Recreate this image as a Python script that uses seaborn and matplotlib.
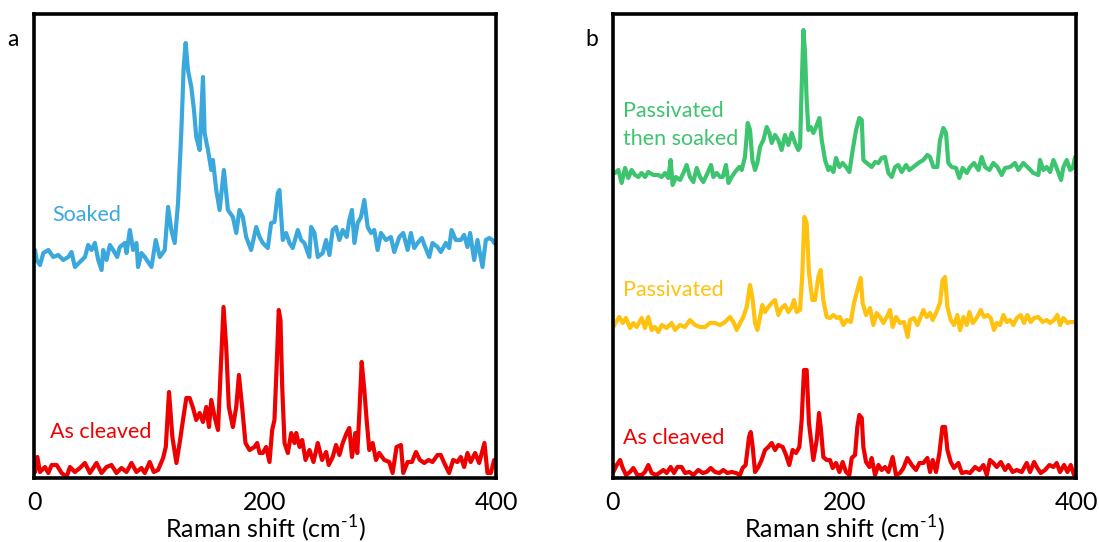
import matplotlib
matplotlib.use("Agg")
import matplotlib.pyplot as plt
import numpy as np
import pandas as pd
import seaborn as sns

# ---------------- Raman spectra (stacked with vertical offsets) ----------------
# Panel a: soaked sample
soaked_x = [0.9, 2.3, 5.2, 8.1, 12.4, 16.7, 21.0, 25.3, 29.7, 32.5, 35.4, 39.7, 44.1, 46.9, 49.8,
            52.7, 55.6, 58.5, 59.9, 62.8, 65.7, 68.5, 72.0, 74.3, 78.6, 80.1, 83.0, 85.8, 88.7, 90.1,
            93.0, 95.9, 101.7, 105.4, 108.9, 113.2, 116.1, 118.9, 121.8, 124.7, 127.6, 129.6, 131.3,
            133.3, 136.2, 138.5, 140.5, 143.4, 146.3, 147.7, 150.6, 153.5, 154.9, 157.8, 160.7, 164.4,
            167.9, 172.2, 175.1, 177.9, 180.8, 183.7, 188.0, 192.4, 195.3,
            198.1, 202.4, 205.3, 208.2, 211.1, 212.5, 215.4, 218.3, 221.2, 224.0, 228.4, 231.3, 234.1,
            238.4, 239.9, 242.8, 245.7, 250.0, 252.9, 255.8, 258.6, 261.5, 264.4, 267.3, 270.7, 273.0,
            275.3, 277.4, 280.2, 283.1, 286.0, 288.9, 291.8, 294.6, 297.5, 300.4, 304.7, 309.0, 311.9,
            316.3, 319.7, 323.5, 326.3, 329.2, 332.1, 335.8, 338.7, 342.2, 345.0, 349.4, 352.2, 356.6,
            359.4, 361.5, 365.2, 369.5, 372.4, 375.3, 377.6, 381.1, 384.0, 388.3, 391.2, 394.1, 397.0,
            398.4]
soaked_y = [228, 218, 213, 225, 228, 221, 223, 218, 221, 226, 211, 216, 221, 233, 228,
            235, 218, 208, 228, 218, 233, 228, 221, 231, 235, 225, 248, 228, 235, 211,
            225, 221, 211, 238, 221, 228, 271, 248, 235, 275, 348, 411, 435,
            408, 391, 368, 341, 328, 401, 345, 328, 308, 318, 288, 268, 308,
            268, 261, 245, 268, 261, 241, 228, 251, 241,
            235, 230, 255, 256, 285, 288, 238, 245, 235, 230, 248, 238, 235,
            221, 251, 245, 221, 225, 238, 223, 248, 251, 238, 248, 241, 258,
            268, 235, 255, 261, 278, 251, 245, 248, 228, 245, 238, 241, 226,
            241, 245, 228, 245, 230, 235, 240, 231, 221, 235, 231, 226, 235,
            230, 248, 238, 238, 243, 231, 245, 218, 238, 211, 238, 240, 238,
            235]

# Panel a: as-cleaved sample
cleaved_a_x = [0.9, 2.9, 5.2, 9.5, 12.4, 15.3, 19.6, 23.9, 28.2, 31.1, 35.4, 39.7, 44.1, 48.4, 54.1,
               58.5, 62.8, 67.1, 71.4, 75.7, 80.1, 84.4, 88.7, 93.0, 95.9, 100.2, 103.7, 107.4, 111.8,
               114.1, 116.9, 119.8, 123.3, 126.1, 129.0, 131.9, 134.8, 137.7, 140.5, 143.4, 146.3,
               149.2, 151.5, 153.5, 156.4, 159.3, 162.1, 164.1, 166.4, 168.7, 172.2, 175.1, 177.4,
               180.2, 183.1, 186.6, 190.9, 193.2, 195.3,
               198.1, 201.0, 203.9, 206.2, 208.2, 210.2, 211.9, 213.4, 214.9, 216.9, 219.8, 222.7,
               225.5, 227.0, 229.9, 232.2, 235.1, 238.5, 242.0, 245.7, 249.4, 252.9, 255.2, 258.6,
               261.5, 264.4, 267.3, 270.7, 273.0, 275.3, 278.2, 279.9, 281.7, 283.7, 286.0, 288.0,
               290.3, 293.2, 296.1, 298.9, 303.3, 307.6, 310.5, 313.9, 317.7, 319.7, 323.5, 327.2,
               330.7, 334.1, 337.9, 341.6, 345.0, 349.4, 352.2, 355.2, 359.4, 362.9, 366.6, 369.5,
               372.4, 375.3, 378.1, 381.9, 385.4, 390.0, 392.6, 395.5, 398.4]
cleaved_a_y = [6, 21, 6, 11, 5, 13, 13, 5, 1, 11, 6, 10, 15, 5, 15,
               5, 11, 13, 5, 10, 6, 15, 6, 10, 5, 16, 6, 8, 20,
               31, 86, 41, 15, 35, 58, 80, 80, 70, 58, 65, 56,
               71, 51, 78, 61, 48, 121, 171, 131, 71, 51, 71, 103,
               71, 35, 28, 31, 35, 25,
               25, 31, 16, 48, 58, 115, 168, 158, 91, 35, 25, 45,
               35, 45, 31, 38, 18, 28, 16, 35, 18, 26, 13, 21,
               33, 23, 35, 45, 50, 21, 45, 25, 65, 116, 88, 58,
               28, 35, 18, 25, 18, 16, 5, 31, 33, 5, 16, 16,
               26, 18, 15, 18, 16, 23, 23, 15, 5, 18, 16, 21,
               11, 25, 16, 25, 15, 35, 5, 5, 18]

# Panel b: passivated then soaked
pass_soak_x = [1.7, 4.6, 7.5, 10.4, 13.2, 16.1, 19.0, 21.9, 24.8, 27.7, 30.5, 34.8, 39.2, 42.0, 44.9,
               47.8, 49.8, 51.5, 54.4, 57.9, 60.8, 63.6, 66.5, 69.4, 72.3, 75.2, 78.0, 80.9, 84.7,
               86.7, 89.6, 92.5, 94.8, 97.6, 99.7, 102.5, 105.4, 109.1, 111.2, 114.0, 116.4, 118.4,
               120.4, 122.7, 124.7, 127.0, 129.9, 132.8, 135.1, 137.1, 140.0, 142.8, 145.7, 148.6,
               151.5, 154.4, 157.3, 160.1, 161.6, 163.0, 164.5, 165.9, 167.3, 168.8, 170.8, 173.1,
               175.4, 178.3, 180.3, 183.2, 186.0,
               187.5, 190.4, 192.7, 195.6, 198.4, 201.3, 204.2, 207.1, 210.0, 212.8, 214.9, 216.3,
               219.2, 223.5, 226.4, 229.3, 232.1, 235.0, 237.9, 240.8, 243.7, 246.5, 249.4, 253.2,
               256.0, 259.5, 263.8, 268.1, 271.6, 273.9, 276.8, 280.2, 282.5, 285.4, 287.7, 289.7,
               292.6, 296.4, 299.2, 302.1, 305.6, 308.5, 311.9, 315.7, 318.5, 321.4, 325.2, 328.6,
               332.1, 335.8, 338.7, 343.0, 347.3, 350.2, 354.5, 358.9, 363.2, 367.5, 368.9, 371.8,
               374.7, 377.6, 380.5, 383.3, 387.1, 389.1, 392.0, 394.9, 397.2, 399.2]
pass_soak_y = [305, 308, 295, 310, 300, 308, 303, 301, 305, 301, 306, 303, 303, 301, 305,
               300, 318, 293, 301, 298, 305, 313, 301, 296, 310, 301, 296, 303, 313,
               301, 305, 301, 301, 313, 295, 301, 306, 311, 308, 321, 355, 348,
               318, 308, 315, 331, 338, 351, 345, 335, 343, 338, 328, 343,
               333, 345, 335, 328, 331, 391, 448, 425, 378, 348, 351, 345,
               351, 360, 338, 318, 308,
               311, 306, 320, 311, 315, 311, 306, 328, 348, 360, 358, 318,
               315, 311, 316, 315, 320, 321, 305, 301, 311, 313, 306, 313,
               308, 311, 315, 318, 323, 321, 311, 311, 338, 350, 345, 315,
               311, 310, 300, 310, 305, 311, 315, 308, 321, 311, 308, 315,
               311, 303, 310, 311, 315, 308, 315, 310, 305, 303, 318, 308,
               311, 306, 318, 310, 298, 311, 318, 308, 310, 321]

# Panel b: passivated
passivated_x = [0.3, 2.6, 5.5, 8.4, 11.2, 14.7, 17.6, 20.5, 24.8, 27.6, 30.5, 33.4, 36.3, 39.2, 42.1,
                46.4, 50.7, 53.6, 57.9, 62.2, 66.5, 70.8, 75.2, 79.5, 83.8, 88.1, 92.5, 96.8, 101.1,
                104.0, 106.9, 109.7, 112.6, 115.5, 118.4, 120.7, 122.7, 124.7, 127.0, 129.0, 131.3,
                134.2, 137.1, 140.0, 142.8, 145.7, 148.6, 151.5, 154.4, 156.4, 158.7, 161.6, 163.6,
                165.3, 167.3, 169.3, 172.2, 174.5, 177.4, 179.4, 181.7, 184.6,
                187.5, 190.4, 193.3, 196.1, 199.0, 201.9, 205.4, 208.2, 211.1, 214.0, 215.7, 218.6,
                222.1, 224.9, 227.8, 230.7, 233.6, 236.5, 239.3, 241.6, 244.5, 248.0, 251.4, 254.6,
                256.6, 260.1, 263.0, 265.8, 268.1, 271.0, 273.9, 276.2, 279.1, 282.5, 284.8, 286.9,
                288.9, 291.8, 294.6, 297.5, 299.8, 302.7, 305.6, 307.9, 310.8, 314.2, 317.7, 320.6,
                323.4, 326.3, 329.2, 331.5, 334.4, 337.3, 340.1, 343.0, 345.9, 348.8, 352.2, 355.1,
                358.0, 360.9, 363.8, 367.5, 371.2, 374.7, 377.6, 381.0, 383.9, 386.2, 389.1, 392.6,
                395.4, 399.2]
passivated_y = [151, 156, 161, 155, 160, 150, 155, 151, 160, 150, 161, 148, 151, 146, 153,
                150, 155, 148, 153, 151, 158, 153, 151, 151, 155, 155, 153, 156, 161,
                156, 148, 155, 161, 171, 193, 178, 155, 148, 161, 173, 166,
                171, 175, 178, 163, 170, 173, 166, 171, 178, 166, 168, 205,
                261, 255, 205, 178, 178, 201, 208, 178, 161,
                160, 163, 160, 161, 153, 158, 156, 175, 188, 200, 175, 163,
                170, 153, 165, 161, 155, 161, 168, 151, 161, 155, 156, 141,
                158, 160, 153, 161, 168, 161, 165, 158, 165, 175, 198, 201,
                171, 158, 153, 163, 148, 161, 153, 166, 155, 160, 168, 161,
                163, 160, 148, 155, 153, 163, 156, 158, 153, 160, 163, 155,
                163, 156, 160, 161, 156, 158, 155, 158, 163, 153, 160, 155,
                156, 156]

# Panel b: as cleaved
cleaved_b_x = [0.3, 3.2, 6.1, 8.4, 11.2, 14.7, 17.6, 21.0, 24.8, 27.6, 30.5, 33.4, 37.2, 40.0, 43.5,
               46.4, 49.8, 52.7, 55.6, 59.3, 62.2, 66.0, 69.4, 73.7, 77.5, 80.9, 84.4, 88.1, 91.9,
               95.3, 98.8, 102.5, 106.3, 109.7, 112.0, 114.6, 117.5, 119.0, 120.7, 122.7, 125.6,
               128.4, 131.3, 134.2, 137.1, 140.0, 142.8, 146.6, 149.5, 152.3, 155.2, 158.1, 161.0,
               163.0, 165.0, 167.3, 169.3, 173.1, 176.0, 178.0, 179.7, 181.7, 184.6,
               187.5, 189.8, 192.7, 195.6, 198.4, 201.3, 204.2, 206.2, 209.1, 211.1, 212.8, 214.9,
               216.3, 218.6, 221.5, 223.5, 226.4, 229.3, 232.1, 235.0, 237.9, 241.6, 244.5, 248.0,
               250.9, 254.3, 258.1, 261.8, 264.7, 268.1, 271.6, 273.9, 276.2, 279.1, 282.0, 284.6,
               286.9, 288.9, 291.8, 294.6, 298.4, 301.3, 305.0, 308.5, 312.8, 316.5, 320.0, 322.9,
               325.7, 328.6, 331.5, 335.0, 338.7, 341.6, 345.3, 348.8, 353.1, 357.4, 360.3, 363.8,
               366.6, 369.5, 373.3, 377.0, 380.5, 383.3, 386.2, 389.7, 392.6, 395.4, 398.3]
cleaved_b_y = [6, 13, 18, 10, 3, 6, 10, 3, 3, 6, 13, 5, 3, 5, 8,
               5, 11, 5, 11, 11, 5, 6, 3, 8, 5, 6, 10, 6, 5,
               8, 5, 6, 5, 3, 10, 13, 41, 46, 31, 6, 11,
               18, 28, 31, 35, 28, 33, 31, 23, 13, 28, 25, 31,
               58, 108, 108, 55, 18, 38, 65, 48, 21, 18,
               18, 10, 15, 6, 16, 6, 3, 20, 23, 51, 63, 60,
               31, 16, 11, 20, 3, 13, 8, 11, 6, 21, 3, 5,
               10, 20, 13, 8, 15, 15, 20, 6, 18, 6, 25, 51,
               51, 28, 16, 10, 15, 5, 6, 5, 11, 8, 13, 3,
               18, 15, 11, 16, 8, 13, 6, 8, 6, 15, 6, 16,
               10, 5, 8, 13, 11, 15, 6, 13, 6, 13, 3]

BLUE = "#3AA8DC"
RED = "#EE0000"
GREEN = "#3CC46E"
GOLD = "#FFC20E"

panel_a = [("Soaked", soaked_x, soaked_y, BLUE, (15.6, 263)),
           ("As cleaved", cleaved_a_x, cleaved_a_y, RED, (13.8, 46))]
panel_b = [("Passivated\nthen soaked", pass_soak_x, pass_soak_y, GREEN, (8.6, 353)),
           ("Passivated", passivated_x, passivated_y, GOLD, (8.6, 188)),
           ("As cleaved", cleaved_b_x, cleaved_b_y, RED, (8.6, 40))]

sns.set_theme(style="white")
plt.rcParams["font.family"] = ["Lato", "DejaVu Sans"]
plt.rcParams["mathtext.fontset"] = "custom"
plt.rcParams["mathtext.rm"] = "Lato"

fig = plt.figure(figsize=(10.99, 5.42), dpi=100)
ax_a = fig.add_axes([34 / 1099, 1 - 478 / 542, 462 / 1099, 464 / 542])
ax_b = fig.add_axes([613 / 1099, 1 - 478 / 542, 463 / 1099, 464 / 542])

for ax, spectra, letter in [(ax_a, panel_a, "a"), (ax_b, panel_b, "b")]:
    for name, xs, ys, color, (tx, ty) in spectra:
        df = pd.DataFrame({"shift": xs, "intensity": ys})
        sns.lineplot(data=df, x="shift", y="intensity", ax=ax, color=color,
                     linewidth=3.0, estimator=None, sort=False)
        ax.text(tx, ty, name, color=color, fontsize=15.5, ha="left", va="center",
                linespacing=1.5)
    ax.set_xlim(0, 400)
    ax.set_ylim(0, 464)
    ax.set_yticks([])
    ax.set_xticks([0, 100, 200, 300, 400])
    ax.set_xticklabels(["0", "", "200", "", "400"])
    ax.tick_params(axis="x", direction="in", length=5, width=2.5, color="black",
                   labelsize=18, pad=9, labelcolor="black")
    ax.set_xlabel("Raman shift (cm$^{\\mathregular{\u2010}1}$)", fontsize=18, labelpad=0,
                  color="black")
    ax.set_ylabel("")
    for sp in ax.spines.values():
        sp.set_color("black")
        sp.set_linewidth(2.6)
        sp.set_visible(True)
    ax.text(-0.045, 0.945, letter, transform=ax.transAxes, fontsize=16.5,
            ha="center", va="center", color="black")

fig.savefig("out.png", dpi=100, facecolor="white")
